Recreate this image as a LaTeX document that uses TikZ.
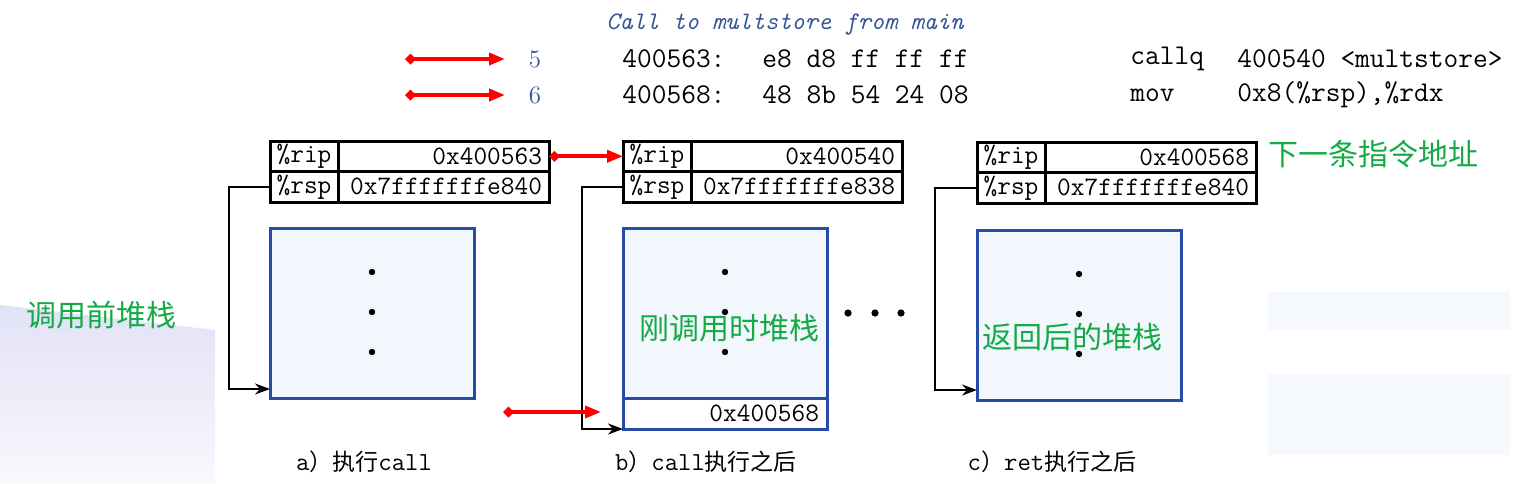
\documentclass[tikz,border=0pt]{standalone}
\usepackage{fontspec}
\usepackage{tikz}
\usetikzlibrary{arrows.meta,positioning}

\newfontfamily\cjk{Noto Sans CJK SC}

\definecolor{codeblue}{RGB}{55,85,150}
\definecolor{stackblue}{RGB}{40,75,170}
\definecolor{stackfill}{RGB}{242,247,253}
\definecolor{labelgreen}{RGB}{20,170,70}
\definecolor{slidelav}{RGB}{226,226,247}
\definecolor{slideblue}{RGB}{245,248,253}

\begin{document}
\begin{tikzpicture}[x=0.5pt,y=-0.5pt,
		regname/.style={draw,line width=1.5pt,outer sep=0pt,inner sep=0pt,minimum width=34pt,minimum height=15.25pt,font=\fontsize{13.3}{15}\ttfamily},
		regval/.style={draw,line width=1.5pt,outer sep=0pt,inner xsep=3.5pt,inner ysep=0pt,text width=98.5pt,minimum height=15.25pt,align=right,font=\fontsize{13.3}{15}\ttfamily},
		stack/.style={draw=stackblue,fill=stackfill,line width=1.5pt,outer sep=0pt,minimum width=102pt,minimum height=85pt,anchor=north west},
		retcell/.style={draw=stackblue,line width=1.5pt,outer sep=0pt,inner xsep=4pt,inner ysep=0pt,text width=94pt,minimum height=15.5pt,align=right,font=\fontsize{13.3}{15}\ttfamily},
		dot/.style={circle,fill=black,inner sep=0pt,minimum size=3.2pt},
		ptr/.style={-{Stealth[length=7.5pt,width=5.5pt]},line width=1pt},
		greenlbl/.style={text=labelgreen,font=\fontsize{15}{18}\cjk},
		code/.style={anchor=west,inner sep=0pt,font=\fontsize{14.3}{16}\ttfamily},
		caption/.style={inner sep=0pt,font=\fontsize{13}{15}\ttfamily}]
			\useasboundingbox (0,0) rectangle (1528,483);
			
			% slide background
			\shade [top color=slidelav,bottom color=slidelav!25] (0,305) -- (215,330) -- (215,483) -- (0,483) -- cycle;
			\fill [slideblue] (1268,292) rectangle (1510,330);
			\fill [slideblue] (1268,374) rectangle (1510,455);
			
			% code lines
			\node [anchor=west,inner sep=0pt,text=codeblue,font=\fontsize{12.6}{15}\ttfamily\itshape] (title) at (606,25) {Call to multstore from main};
			\begin{scope}[every node/.style={inner sep=0pt,text=codeblue,font=\fontsize{12.5}{14}\selectfont}]
				\node (lnFive) at (535,59) {5};
				\node (lnSix) at (535,95) {6};
			\end{scope}
			\node [code] (addrFive) at (622,59) {400563:};
			\node [code] (bytesFive) at (762,59) {e8 d8 ff ff ff};
			\node [code] (opFive) at (1130,59) {callq};
			\node [code] (argFive) at (1237,59) {400540 <multstore>};
			\node [code] (addrSix) at (622,95) {400568:};
			\node [code] (bytesSix) at (762,95) {48 8b 54 24 08};
			\node [code] (opSix) at (1130,95) {mov};
			\node [code] (argSix) at (1237,95) {0x8(\%rsp),\%rdx};
			
			% registers
			\node [regname,anchor=north west] (ripA) at (270,141) {\%rip};
			\node [regval,right=0pt of ripA] (ripvalA) {0x400563};
			\node [regname,below=0pt of ripA] (rspA) {\%rsp};
			\node [regval,right=0pt of rspA] (rspvalA) {0x7fffffffe840};
			
			\node [regname,anchor=north west] (ripB) at (623,141) {\%rip};
			\node [regval,right=0pt of ripB] (ripvalB) {0x400540};
			\node [regname,below=0pt of ripB] (rspB) {\%rsp};
			\node [regval,right=0pt of rspB] (rspvalB) {0x7fffffffe838};
			
			\node [regname,anchor=north west] (ripC) at (977,142) {\%rip};
			\node [regval,right=0pt of ripC] (ripvalC) {0x400568};
			\node [regname,below=0pt of ripC] (rspC) {\%rsp};
			\node [regval,right=0pt of rspC] (rspvalC) {0x7fffffffe840};
			
			% stacks
			\node [stack] (stackA) at (270,228) {};
			\node [stack] (stackB) at (623,228) {};
			\node [retcell,below=0pt of stackB] (retB) {0x400568};
			\node [stack] (stackC) at (977,230) {};
			
			\begin{scope}[every node/.style={dot}]
				\node (dotA1) at (372,272) {};
				\node (dotA2) at (372,312) {};
				\node (dotA3) at (372,352) {};
				\node (dotB1) at (725,272) {};
				\node (dotB2) at (725,312) {};
				\node (dotB3) at (725,352) {};
				\node (dotC1) at (1079,274) {};
				\node (dotC2) at (1079,314) {};
				\node (dotC3) at (1079,354) {};
				\node [minimum size=3.6pt] (gap1) at (848,313) {};
				\node [minimum size=3.6pt] (gap2) at (875,313) {};
				\node [minimum size=3.6pt] (gap3) at (901,313) {};
			\end{scope}
			
			% rsp pointers
			\coordinate (bendA) at (229,389);
			\coordinate (bendB) at (582,429);
			\coordinate (bendC) at (935,390);
			\draw [ptr] (rspA.west) -| (bendA) -- (stackA.west |- bendA);
			\draw [ptr] (rspB.west) -| (bendB) -- (retB.south west);
			\draw [ptr] (rspC.west) -| (bendC) -- (stackC.west |- bendC);
			
			% red markers
			\coordinate (fromFive) at (405,59);
			\coordinate (toFive) at (505,59);
			\coordinate (fromSix) at (405,95);
			\coordinate (toSix) at (505,95);
			\coordinate (fromRet) at (503,412);
			\coordinate (toRet) at (601,412);
			\begin{scope}[every edge/.style={draw=red,line width=1.9pt}]
				\path [{Diamond[length=5.5pt,width=5.5pt]}-{Triangle[length=8pt,width=6pt]}] (fromFive) edge (toFive);
				\path [{Diamond[length=5.5pt,width=5.5pt]}-{Triangle[length=8pt,width=6pt]}] (fromSix) edge (toSix);
				\path [{Diamond[length=5.5pt,width=5.5pt]}-{Triangle[length=8pt,width=6pt]}] (ripvalA.east) edge (ripB.west);
				\path [{Diamond[length=5.5pt,width=5.5pt]}-{Triangle[length=8pt,width=6pt]}] (fromRet) edge (toRet);
			\end{scope}
			
			% labels
			\node [greenlbl] (lblBefore) at (101,315) {调用前堆栈};
			\node [greenlbl] (lblNow) at (729,328) {刚调用时堆栈};
			\node [greenlbl] (lblAfter) at (1072,337) {返回后的堆栈};
			\node [greenlbl] (lblNext) at (1373,154) {下一条指令地址};
			
			\node [caption] (capA) at (364,462) {a{\cjk\fontsize{11.5}{13}\selectfont ）执行}call};
			\node [caption] (capB) at (706,462) {b{\cjk\fontsize{11.5}{13}\selectfont ）}call{\cjk\fontsize{11.5}{13}\selectfont 执行之后}};
			\node [caption] (capC) at (1052,462) {c{\cjk\fontsize{11.5}{13}\selectfont ）}ret{\cjk\fontsize{11.5}{13}\selectfont 执行之后}};
		\end{tikzpicture}
\end{document}
